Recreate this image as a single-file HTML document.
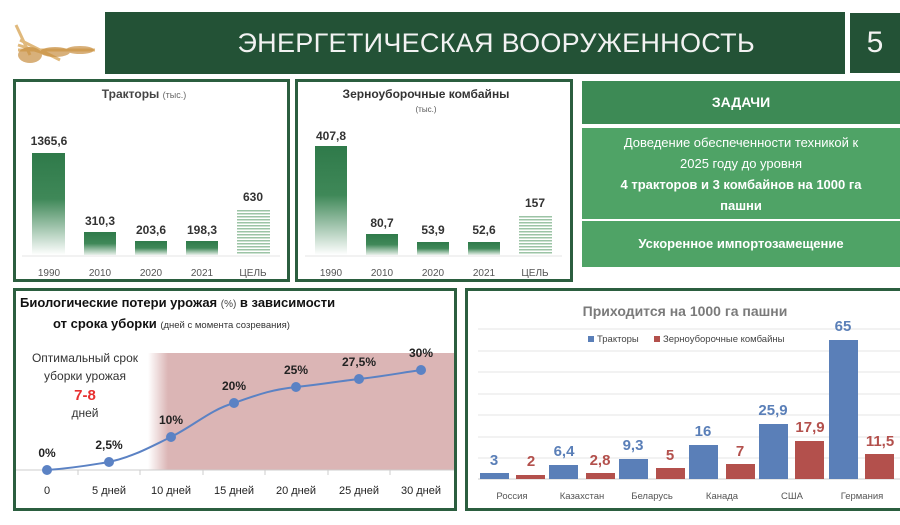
<!DOCTYPE html>
<html><head><meta charset="utf-8"><style>
body{margin:0;width:900px;height:525px;background:#fff;overflow:hidden;font-family:"Liberation Sans","DejaVu Sans",sans-serif;position:relative}
.a{position:absolute}
.box{position:absolute;border:3px solid #2b5e3f;box-sizing:border-box;background:#fff}
</style></head><body>
<svg class="a" style="left:10px;top:10px" width="90" height="60">
<g stroke="#d9a85c" stroke-width="3" fill="none" opacity=".8">
<path d="M8 40 L85 40"/><path d="M8 35 L40 45"/><path d="M6 15 L20 45"/><path d="M10 30 L50 50"/></g>
<g fill="#c89042" opacity=".7"><ellipse cx="20" cy="45" rx="12" ry="8"/><ellipse cx="45" cy="42" rx="15" ry="5"/><ellipse cx="70" cy="40" rx="14" ry="4"/></g>
</svg>
<div class="a" style="left:105px;top:12px;width:740px;height:62px;background:#235236;color:#f2f2f2;font-size:27px;line-height:62px;text-align:right;padding-right:90px;box-sizing:border-box;letter-spacing:.3px">ЭНЕРГЕТИЧЕСКАЯ ВООРУЖЕННОСТЬ</div>
<div class="a" style="left:850px;top:13px;width:50px;height:60px;background:#235236;color:#f2f2f2;font-size:30px;line-height:60px;text-align:center">5</div>

<div class="box" style="left:13px;top:79px;width:277px;height:203px"></div>
<div class="box" style="left:295px;top:79px;width:278px;height:203px"></div>
<svg class="a" style="left:0;top:0" width="580" height="290" font-family="Liberation Sans,sans-serif">
<defs>
<linearGradient id="g" x1="0" y1="0" x2="0" y2="1"><stop offset="0" stop-color="#2f7a4a"/><stop offset=".45" stop-color="#3f8858"/><stop offset="1" stop-color="#fff"/></linearGradient>
<linearGradient id="g2" x1="0" y1="0" x2="0" y2="1"><stop offset="0" stop-color="#2f7a4a"/><stop offset=".5" stop-color="#3f8858"/><stop offset="1" stop-color="#e8f0ea"/></linearGradient>
<pattern id="h" width="4" height="3" patternUnits="userSpaceOnUse"><rect width="4" height="3" fill="#fff"/><rect width="4" height="1.5" fill="#9cc4a6"/></pattern>
</defs>
<text x="144" y="98" text-anchor="middle" font-size="12" font-weight="bold" fill="#444">Тракторы <tspan font-size="9" font-weight="normal" fill="#666">(тыс.)</tspan></text>
<line x1="22" y1="256" x2="280" y2="256" stroke="#e5e5e5"/>
<rect x="32" y="153" width="33" height="102" fill="url(#g)"/>
<rect x="84" y="232" width="32" height="23" fill="url(#g2)"/>
<rect x="135" y="241" width="32" height="14" fill="url(#g2)"/>
<rect x="186" y="241" width="32" height="14" fill="url(#g2)"/>
<rect x="237" y="209" width="33" height="46" fill="url(#h)"/>
<g font-size="12" font-weight="bold" fill="#333" text-anchor="middle">
<text x="49" y="145">1365,6</text><text x="100" y="225">310,3</text><text x="151" y="234">203,6</text><text x="202" y="234">198,3</text><text x="253" y="201">630</text>
<text x="426" y="98" font-size="12">Зерноуборочные комбайны</text>
<text x="331" y="140">407,8</text><text x="382" y="227">80,7</text><text x="433" y="234">53,9</text><text x="484" y="234">52,6</text><text x="535" y="207">157</text>
</g>
<text x="426" y="112" text-anchor="middle" font-size="8" fill="#555">(тыс.)</text>
<g font-size="10" fill="#555" text-anchor="middle">
<text x="49" y="276">1990</text><text x="100" y="276">2010</text><text x="151" y="276">2020</text><text x="202" y="276">2021</text><text x="253" y="276">ЦЕЛЬ</text>
<text x="331" y="276">1990</text><text x="382" y="276">2010</text><text x="433" y="276">2020</text><text x="484" y="276">2021</text><text x="535" y="276">ЦЕЛЬ</text>
</g>
<line x1="305" y1="256" x2="562" y2="256" stroke="#e5e5e5"/>
<rect x="315" y="146" width="32" height="109" fill="url(#g)"/>
<rect x="366" y="234" width="32" height="21" fill="url(#g2)"/>
<rect x="417" y="242" width="32" height="13" fill="url(#g2)"/>
<rect x="468" y="242" width="32" height="13" fill="url(#g2)"/>
<rect x="519" y="215" width="33" height="40" fill="url(#h)"/>
</svg>

<div class="a" style="left:582px;top:81px;width:318px;height:43px;background:#3d8a55;color:#fff;font-weight:bold;font-size:14px;line-height:43px;text-align:center">ЗАДАЧИ</div>
<div class="a" style="left:582px;top:128px;width:318px;height:91px;background:#4fa366;color:#fff;font-size:13px;line-height:21px;text-align:center;padding-top:4px;box-sizing:border-box">Доведение обеспеченности техникой к<br>2025 году до уровня<br><b>4 тракторов и 3 комбайнов на 1000 га<br>пашни</b></div>
<div class="a" style="left:582px;top:221px;width:318px;height:46px;background:#4fa366;color:#fff;font-weight:bold;font-size:13px;line-height:46px;text-align:center">Ускоренное импортозамещение</div>

<div class="box" style="left:13px;top:288px;width:444px;height:223px"></div>
<svg class="a" style="left:0;top:280px" width="460" height="240" font-family="Liberation Sans,sans-serif">
<defs><linearGradient id="p" x1="0" x2="1"><stop offset="0" stop-color="#dbb5b5" stop-opacity="0"/><stop offset="1" stop-color="#dbb5b5"/></linearGradient></defs>
<rect x="148" y="73" width="20" height="117" fill="url(#p)"/>
<rect x="168" y="73" width="286" height="117" fill="#dbb5b5"/>
<line x1="16" y1="190" x2="454" y2="190" stroke="#ccc"/>
<g stroke="#ccc"><line x1="78" y1="190" x2="78" y2="195"/><line x1="140" y1="190" x2="140" y2="195"/><line x1="203" y1="190" x2="203" y2="195"/><line x1="265" y1="190" x2="265" y2="195"/><line x1="328" y1="190" x2="328" y2="195"/><line x1="390" y1="190" x2="390" y2="195"/></g>
<text x="20" y="27" font-size="13" font-weight="bold" fill="#111">Биологические  потери урожая <tspan font-size="10" font-weight="normal" fill="#444">(%)</tspan> в зависимости</text>
<text x="53" y="48" font-size="13" font-weight="bold" fill="#111">от срока уборки <tspan font-size="9.5" font-weight="normal" fill="#333">(дней с момента созревания)</tspan></text>
<g text-anchor="middle" font-size="12" fill="#333"><text x="85" y="82">Оптимальный срок</text><text x="85" y="100">уборки урожая</text><text x="85" y="137">дней</text></g>
<text x="85" y="120" text-anchor="middle" font-size="15" font-weight="bold" fill="#e83030">7-8</text>
<path d="M47 190 C75 188 90 185 109 182 C135 176 150 167 171 157 C195 145 210 130 234 123 C260 114 270 110 296 107 C325 104 340 101 359 99 C385 96 400 93 421 90" fill="none" stroke="#5b82c4" stroke-width="2"/>
<g fill="#5b82c4"><circle cx="47" cy="190" r="5"/><circle cx="109" cy="182" r="5"/><circle cx="171" cy="157" r="5"/><circle cx="234" cy="123" r="5"/><circle cx="296" cy="107" r="5"/><circle cx="359" cy="99" r="5"/><circle cx="421" cy="90" r="5"/></g>
<g text-anchor="middle" font-size="12" font-weight="bold" fill="#222"><text x="47" y="177">0%</text><text x="109" y="169">2,5%</text><text x="171" y="144">10%</text><text x="234" y="110">20%</text><text x="296" y="94">25%</text><text x="359" y="86">27,5%</text><text x="421" y="77">30%</text></g>
<g text-anchor="middle" font-size="11" fill="#222"><text x="47" y="214">0</text><text x="109" y="214">5 дней</text><text x="171" y="214">10 дней</text><text x="234" y="214">15 дней</text><text x="296" y="214">20 дней</text><text x="359" y="214">25 дней</text><text x="421" y="214">30 дней</text></g>
</svg>

<div class="box" style="left:465px;top:288px;width:440px;height:223px"></div>
<svg class="a" style="left:465px;top:288px" width="435" height="222" font-family="Liberation Sans,sans-serif">
<g stroke="#e6e6e6"><line x1="13" y1="41" x2="435" y2="41"/><line x1="13" y1="63" x2="435" y2="63"/><line x1="13" y1="84" x2="435" y2="84"/><line x1="13" y1="106" x2="435" y2="106"/><line x1="13" y1="127" x2="435" y2="127"/><line x1="13" y1="149" x2="435" y2="149"/><line x1="13" y1="170" x2="435" y2="170"/><line x1="13" y1="191" x2="435" y2="191" stroke="#ccc"/></g>
<text x="220" y="28" text-anchor="middle" font-size="14" font-weight="bold" fill="#7a7a7a">Приходится на 1000 га пашни</text>
<rect x="123" y="48" width="6" height="6" fill="#5a7fb8"/><text x="132" y="54" font-size="9.5" fill="#444">Тракторы</text>
<rect x="189" y="48" width="6" height="6" fill="#b3504c"/><text x="198" y="54" font-size="9.5" fill="#444">Зерноуборочные  комбайны</text>
<g fill="#5a7fb8"><rect x="15" y="185" width="29" height="6"/><rect x="84" y="177" width="29" height="14"/><rect x="154" y="171" width="29" height="20"/><rect x="224" y="157" width="29" height="34"/><rect x="294" y="136" width="29" height="55"/><rect x="364" y="52" width="29" height="139"/></g>
<g fill="#b3504c"><rect x="51" y="187" width="29" height="4"/><rect x="121" y="185" width="29" height="6"/><rect x="191" y="180" width="29" height="11"/><rect x="261" y="176" width="29" height="15"/><rect x="330" y="153" width="29" height="38"/><rect x="400" y="166" width="29" height="25"/></g>
<g font-size="15" font-weight="bold" text-anchor="middle" fill="#5a7fb8"><text x="29" y="177">3</text><text x="99" y="168">6,4</text><text x="168" y="162">9,3</text><text x="238" y="148">16</text><text x="308" y="127">25,9</text><text x="378" y="43">65</text></g>
<g font-size="15" font-weight="bold" text-anchor="middle" fill="#b3504c"><text x="66" y="178">2</text><text x="135" y="177">2,8</text><text x="205" y="172">5</text><text x="275" y="168">7</text><text x="345" y="144">17,9</text><text x="415" y="158">11,5</text></g>
<g font-size="9.5" text-anchor="middle" fill="#555"><text x="47" y="211">Россия</text><text x="117" y="211">Казахстан</text><text x="187" y="211">Беларусь</text><text x="257" y="211">Канада</text><text x="327" y="211">США</text><text x="397" y="211">Германия</text></g>
</svg>
</body></html>
